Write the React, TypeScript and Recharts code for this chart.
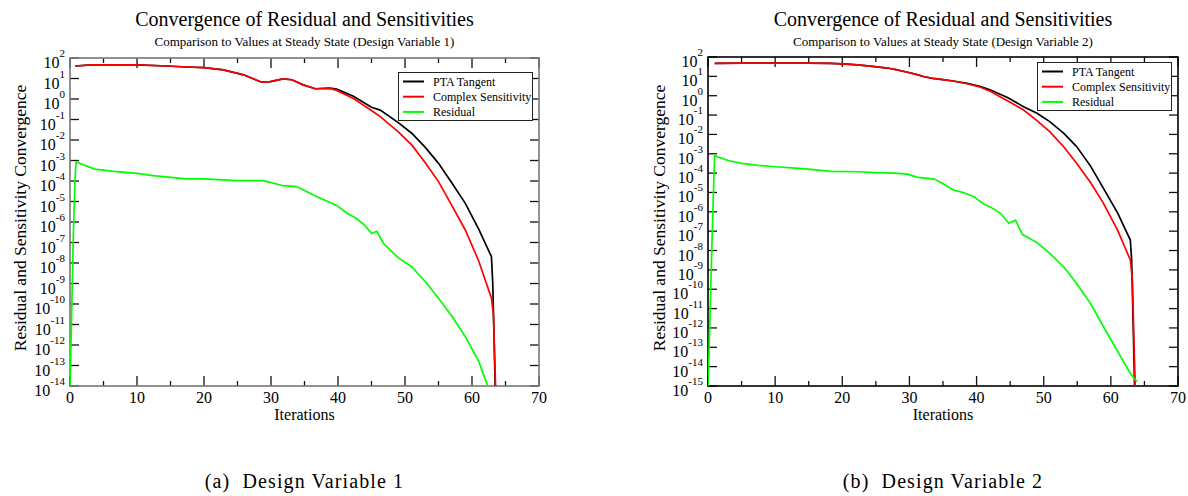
import React from 'react';
import * as Recharts from 'recharts';
import { LineChart, Line, XAxis, YAxis } from 'recharts';

type Pt = [number, number];

// iteration, log10(value)
const xTicks = [0, 5, 10, 15, 20, 25, 30, 35, 40, 45, 50, 55, 60, 65, 70];
const leftYExps = [2, 1, 0, -1, -2, -3, -4, -5, -6, -7, -8, -9, -10, -11, -12, -13, -14];
const rightYExps = [2, 1, 0, -1, -2, -3, -4, -5, -6, -7, -8, -9, -10, -11, -12, -13, -14, -15];

const leftPta: Pt[] = [
  [0.8, 1.61], [3.2, 1.66], [10, 1.66], [14.4, 1.61], [17.4, 1.56], [20, 1.53], [22.9, 1.42],
  [25.9, 1.18], [28.6, 0.82], [29.9, 0.85], [31.8, 0.98], [33.1, 0.94], [34.8, 0.69], [36.6, 0.5],
  [38.8, 0.53], [39.8, 0.48], [42.3, 0.13], [45, -0.4], [46.3, -0.54], [49, -1.15], [51, -1.67],
  [53, -2.35], [55, -3.14], [57, -4.1], [59, -5.09], [61, -6.35], [62.9, -7.69], [63.1, -9], [63.6, -16],
];
const leftComplex: Pt[] = [
  [0.8, 1.61], [3.2, 1.66], [10, 1.66], [14.4, 1.61], [17.4, 1.56], [20, 1.53], [22.9, 1.42],
  [25.9, 1.18], [28.6, 0.82], [29.9, 0.85], [31.8, 0.98], [33.1, 0.94], [34.8, 0.69], [36.6, 0.5],
  [38.8, 0.52], [39.8, 0.42], [42.3, 0.02], [45, -0.56], [46.3, -0.86], [49, -1.6], [51, -2.24],
  [53, -3.1], [55, -4.03], [57, -5.2], [59, -6.39], [61, -7.9], [62.9, -9.72], [63.2, -10.5], [63.7, -16],
];
const leftResidual: Pt[] = [
  [0, -14.2], [0.5, -6.6], [0.75, -3.95], [0.9, -3.07], [3.7, -3.42], [6.5, -3.53], [10, -3.63],
  [12.4, -3.74], [17.4, -3.9], [20, -3.9], [24.9, -3.98], [28.9, -3.98], [31.8, -4.23], [33.8, -4.27],
  [36.8, -4.76], [39.8, -5.19], [41.3, -5.56], [42.8, -5.84], [44, -6.16], [45, -6.56], [45.8, -6.45],
  [46.8, -7.05], [49, -7.75], [51, -8.18], [53, -8.9], [55, -9.72], [57, -10.6], [59, -11.59],
  [61, -12.8], [62.2, -13.87], [62.8, -14.6],
];

const rightPta: Pt[] = [
  [1, 1.67], [5, 1.68], [10, 1.68], [15, 1.68], [18.3, 1.67], [20, 1.64], [22.3, 1.59], [24.5, 1.52],
  [26.7, 1.43], [28, 1.35], [29.7, 1.21], [31, 1.1], [32.2, 0.98], [33.5, 0.9], [34.7, 0.84],
  [36.5, 0.76], [38.6, 0.64], [40.6, 0.47], [42.1, 0.29], [43.5, 0.08], [44.6, -0.09], [47, -0.57],
  [49, -0.91], [50.9, -1.34], [53, -1.95], [54.9, -2.63], [57, -3.65], [58.9, -4.79], [61, -6.05],
  [62.9, -7.46], [63.1, -8.5], [63.6, -16],
];
const rightComplex: Pt[] = [
  [1, 1.67], [5, 1.68], [10, 1.68], [15, 1.68], [18.3, 1.67], [20, 1.64], [22.3, 1.59], [24.5, 1.52],
  [26.7, 1.43], [28, 1.35], [29.7, 1.21], [31, 1.1], [32.2, 0.98], [33.5, 0.9], [34.7, 0.84],
  [36.5, 0.76], [38.6, 0.62], [40.6, 0.44], [42.1, 0.22], [43.5, -0.05], [44.6, -0.26], [47, -0.74],
  [49, -1.29], [50.9, -1.86], [53, -2.65], [54.9, -3.49], [57, -4.5], [58.9, -5.56], [61, -6.95],
  [62.9, -8.49], [63.2, -9.5], [63.7, -16],
];
const rightResidual: Pt[] = [
  [0, -15.2], [0.6, -7.5], [0.75, -5.69], [0.9, -3.97], [1, -3.1], [3, -3.35], [5, -3.5], [7.5, -3.6],
  [10, -3.67], [12.5, -3.73], [14.9, -3.79], [18.3, -3.91], [22.3, -3.93], [25, -3.97], [27.7, -4.0],
  [29.7, -4.05], [31.2, -4.22], [33.7, -4.31], [35, -4.55], [36.6, -4.88], [38, -5.0], [39.6, -5.22],
  [41.1, -5.6], [42.6, -5.86], [43.6, -6.09], [44.8, -6.59], [45.8, -6.43], [46.8, -7.16], [49, -7.59],
  [50.9, -8.15], [53, -8.85], [54.9, -9.7], [57, -10.75], [58.9, -11.94], [61, -13.2], [62.9, -14.35],
  [63.9, -14.78],
];

const seriesNames = ['PTA Tangent', 'Complex Sensitivity', 'Residual'];
const seriesColors = ['#000000', '#ff0000', '#00ff00'];

const FONT = "'Liberation Serif', 'Times New Roman', serif";
const X_MAX = 70;

const toData = (pts: Pt[]) => pts.map(([x, e]) => ({ x, y: Math.pow(10, e) }));

const YTickLabel = (props: any) => {
  const { x, y, payload } = props;
  const exp = Math.round(Math.log10(payload.value));
  return (
    <text x={x - 5} y={y} textAnchor="end" fontFamily={FONT} fill="#000">
      <tspan fontSize={16} dy={10}>10</tspan>
      <tspan fontSize={11} dy={-11}>{String(exp)}</tspan>
    </text>
  );
};

const XTickLabel = (props: any) => {
  const { x, y, payload } = props;
  if (payload.value % 10 !== 0) return <g />;
  return (
    <text x={x} y={y + 17} textAnchor="middle" fontFamily={FONT} fontSize={16} fill="#000">
      {payload.value}
    </text>
  );
};

type Area = { x: number; y: number; width: number; height: number };
const RAny: any = Recharts;
const usePlotAreaHook: (() => Area | undefined) | undefined = RAny['use' + 'PlotArea'];

// Frame and inward ticks, positioned from the chart's plot area and the axis domains
const FrameAndTicks = ({ fallback, yExps, frame }: { fallback: Area; yExps: number[]; frame: string }) => {
  const hooked = usePlotAreaHook ? usePlotAreaHook() : undefined;
  const a = hooked && hooked.width > 0 ? hooked : fallback;
  const eMax = yExps[0];
  const eMin = yExps[yExps.length - 1];
  const yOf = (e: number) => a.y + ((eMax - e) / (eMax - eMin)) * a.height;
  const xOf = (v: number) => a.x + (v / X_MAX) * a.width;
  const tc = '#111111';
  return (
    <g>
      {yExps.map((e) => (
        <g key={`y${e}`}>
          <line x1={a.x} y1={yOf(e)} x2={a.x + 9} y2={yOf(e)} stroke={tc} strokeWidth={1.3} />
          <line x1={a.x + a.width - 9} y1={yOf(e)} x2={a.x + a.width} y2={yOf(e)} stroke={tc} strokeWidth={1.3} />
        </g>
      ))}
      {xTicks.map((v) => {
        const len = v % 10 === 0 ? 10 : 5;
        return (
          <g key={`x${v}`}>
            <line x1={xOf(v)} y1={a.y + a.height} x2={xOf(v)} y2={a.y + a.height - len} stroke={tc} strokeWidth={1.3} />
            <line x1={xOf(v)} y1={a.y} x2={xOf(v)} y2={a.y + len} stroke={tc} strokeWidth={1.3} />
          </g>
        );
      })}
      <rect x={a.x} y={a.y} width={a.width} height={a.height} fill="none" stroke={frame} strokeWidth={1.6} />
    </g>
  );
};

const LegendSvg = ({ x, y }: { x: number; y: number }) => (
  <g>
    <rect x={x + 0.5} y={y + 0.5} width={134} height={48} fill="#fff" stroke="#222" strokeWidth={1} />
    {seriesNames.map((name, i) => (
      <g key={i}>
        <line x1={x + 5} y1={y + 9.5 + i * 15.2} x2={x + 26} y2={y + 9.5 + i * 15.2} stroke={seriesColors[i]} strokeWidth={2} />
        <text x={x + 35} y={y + 13.5 + i * 15.2} fontFamily={FONT} fontSize={12} fill="#000">{name}</text>
      </g>
    ))}
  </g>
);

const PanelTexts = ({ cx, yLabelX, sub, caption }: { cx: number; yLabelX: number; sub: string; caption: string }) => (
  <g fontFamily={FONT} fill="#000">
    <text x={cx} y={26} textAnchor="middle" fontSize={20}>Convergence of Residual and Sensitivities</text>
    <text x={cx} y={46} textAnchor="middle" fontSize={13}>{sub}</text>
    <text x={cx} y={420} textAnchor="middle" fontSize={16}>Iterations</text>
    <text x={yLabelX} y={218} textAnchor="middle" fontSize={17.5} transform={`rotate(-90 ${yLabelX} 218)`}>
      Residual and Sensitivity Convergence
    </text>
    <text x={cx} y={488} textAnchor="middle" fontSize={20} letterSpacing={1.1} style={{ whiteSpace: 'pre' }}>
      {caption}
    </text>
  </g>
);

const CHART_H = 496;
const XAXIS_H = 34;
const PLOT_BOTTOM = 386;

const L_W = 560, L_YW = 70, L_MT = 58, L_MR = 21;
const R_W = 548, R_YW = 68, R_MT = 57, R_MR = 10;
const leftFallback: Area = { x: L_YW, y: L_MT, width: L_W - L_YW - L_MR, height: PLOT_BOTTOM - L_MT };
const rightFallback: Area = { x: R_YW, y: R_MT, width: R_W - R_YW - R_MR, height: PLOT_BOTTOM - R_MT };

export default function App() {
  return (
    <div style={{ position: 'absolute', left: 0, top: 0, width: 1188, height: 496, background: '#fff' }}>
      <LineChart width={L_W} height={CHART_H} margin={{ top: L_MT, right: L_MR, bottom: CHART_H - PLOT_BOTTOM - XAXIS_H, left: 0 }}>
        <XAxis type="number" dataKey="x" domain={[0, X_MAX]} ticks={xTicks} interval={0} height={XAXIS_H}
          tickSize={0} tickMargin={0} tickLine={false} axisLine={false} tick={<XTickLabel />} allowDataOverflow />
        <YAxis scale="log" type="number" domain={[1e-14, 100]} ticks={leftYExps.map((e) => Math.pow(10, e))} interval={0}
          width={L_YW} tickSize={0} tickMargin={0} tickLine={false} axisLine={false} tick={<YTickLabel />} allowDataOverflow />
        <FrameAndTicks fallback={leftFallback} yExps={leftYExps} frame="#777777" />
        <PanelTexts cx={304.5} yLabelX={26} sub="Comparison to Values at Steady State (Design Variable 1)" caption="(a)  Design Variable 1" />
        <LegendSvg x={398} y={72} />
        <Line data={toData(leftPta)} dataKey="y" stroke={seriesColors[0]} strokeWidth={1.7} dot={false} isAnimationActive={false} />
        <Line data={toData(leftComplex)} dataKey="y" stroke={seriesColors[1]} strokeWidth={1.7} dot={false} isAnimationActive={false} />
        <Line data={toData(leftResidual)} dataKey="y" stroke={seriesColors[2]} strokeWidth={1.7} dot={false} isAnimationActive={false} />
      </LineChart>
      <LineChart width={R_W} height={CHART_H} margin={{ top: R_MT, right: R_MR, bottom: CHART_H - PLOT_BOTTOM - XAXIS_H, left: 0 }}
        style={{ position: 'absolute', left: 640, top: 0 }}>
        <XAxis type="number" dataKey="x" domain={[0, X_MAX]} ticks={xTicks} interval={0} height={XAXIS_H}
          tickSize={0} tickMargin={0} tickLine={false} axisLine={false} tick={<XTickLabel />} allowDataOverflow />
        <YAxis scale="log" type="number" domain={[1e-15, 100]} ticks={rightYExps.map((e) => Math.pow(10, e))} interval={0}
          width={R_YW} tickSize={0} tickMargin={0} tickLine={false} axisLine={false} tick={<YTickLabel />} allowDataOverflow />
        <FrameAndTicks fallback={rightFallback} yExps={rightYExps} frame="#000000" />
        <PanelTexts cx={303} yLabelX={25} sub="Comparison to Values at Steady State (Design Variable 2)" caption="(b)  Design Variable 2" />
        <LegendSvg x={397} y={62} />
        <Line data={toData(rightPta)} dataKey="y" stroke={seriesColors[0]} strokeWidth={1.7} dot={false} isAnimationActive={false} />
        <Line data={toData(rightComplex)} dataKey="y" stroke={seriesColors[1]} strokeWidth={1.7} dot={false} isAnimationActive={false} />
        <Line data={toData(rightResidual)} dataKey="y" stroke={seriesColors[2]} strokeWidth={1.7} dot={false} isAnimationActive={false} />
      </LineChart>
    </div>
  );
}
